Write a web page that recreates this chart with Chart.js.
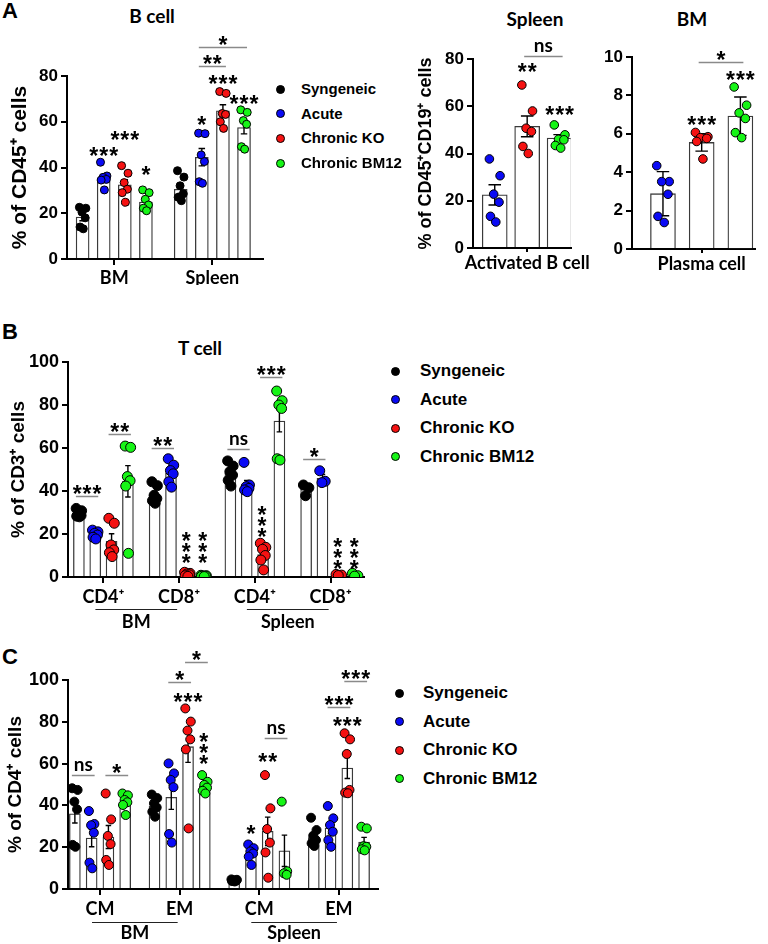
<!DOCTYPE html>
<html>
<head>
<meta charset="utf-8">
<script src="https://cdn.jsdelivr.net/npm/chart.js@4.4.1/dist/chart.umd.min.js"></script>
<style>
  html, body { margin: 0; padding: 0; background: #fff; }
  body { position: relative; width: 768px; height: 944px; overflow: hidden; font-family: "Liberation Sans", Arial, sans-serif; color: #000; }
  .panel { position: absolute; }
  .panel canvas { display: block; }
  .tag { position: absolute; font: bold 22px "Liberation Sans", Arial, sans-serif; line-height: 1; }
  .title { position: absolute; font: bold 19px Lato, sans-serif; transform: translate(-50%, -50%); white-space: nowrap; }
  .legend { position: absolute; font-weight: bold; }
  .legend .dot { position: absolute; border-radius: 50%; box-sizing: border-box; border: 1px solid #000; }
  .legend .txt { position: absolute; transform: translateY(-50%); white-space: nowrap; line-height: 1.15; }
</style>
</head>
<body>
<div class="tag" style="left:2px;top:0px">A</div>
<div class="tag" style="left:2px;top:321px">B</div>
<div class="tag" style="left:2px;top:646px">C</div>
<div class="title" style="left:152px;top:15px">B cell</div>
<div class="title" style="left:535px;top:18px">Spleen</div>
<div class="title" style="left:692px;top:18px">BM</div>
<div class="title" style="left:200px;top:347px">T cell</div>

<div class="panel" style="left:0;top:0;width:268px;height:290px"><canvas id="bCell"></canvas></div>
<div class="panel" style="left:400px;top:0;width:192px;height:290px"><canvas id="actB"></canvas></div>
<div class="panel" style="left:598px;top:0;width:162px;height:290px"><canvas id="plasma"></canvas></div>
<div class="panel" style="left:0;top:340px;width:370px;height:300px"><canvas id="tCell"></canvas></div>
<div class="panel" style="left:0;top:645px;width:383px;height:299px"><canvas id="cd4"></canvas></div>

<script>
// groups (series)
const groupNames = ['Syngeneic', 'Acute', 'Chronic KO', 'Chronic BM12'];
const groupColors = ['#000000', '#0a0af5', '#f51212', '#16f516'];

// ---- A: B cell, % of CD45+ ----
const bCellCats = ['BM', 'Spleen'];
const bCellMean = [[18.3, 30.5], [35.4, 44.5], [32.4, 64.8], [24.9, 57.5]];
const bCellSem = [[1.6, 1.8], [1.5, 3.8], [2.3, 2.6], [1.5, 2.8]];
const bCellPts = [
  [[22.6, 22.2, 20.5, 18.0, 14.0, 13.2], [38.6, 35.8, 32.0, 28.5, 27.0, 25.5]],
  [[42.3, 36.3, 35.7, 34.8, 34.5, 30.2], [55.0, 54.8, 45.5, 42.6, 33.8, 33.1]],
  [[40.8, 37.5, 33.4, 30.5, 29.0, 24.8], [73.2, 72.4, 63.6, 63.2, 60.0, 57.1]],
  [[30.2, 29.0, 26.1, 23.6, 22.2, 21.1], [65.2, 64.1, 60.5, 58.9, 49.1, 48.0]]
];
// [series, category, y, text]
const bCellStars = [[1, 0, 47.3, '***'], [2, 0, 54.1, '***'], [3, 0, 39.0, '*'], [1, 1, 60.6, '*'], [2, 1, 78.7, '***'], [3, 1, 70.0, '***']];
// [from series, to series, category, y, text]
const bCellBrackets = [[1, 2, 1, 84.4, '**'], [1, 3, 1, 92.7, '*']];

// ---- A: Spleen activated B cell, % of CD45+CD19+ ----
const actBCats = ['Activated B cell'];
const actBMean = [[22.5], [51.5], [46.5]];
const actBSem = [[4.3], [4.4], [1.5]];
const actBPts = [
  [[37.7, 30.6, 22.8, 19.4, 13.4, 11.0]],
  [[69.0, 58.0, 50.7, 49.3, 43.0, 40.0]],
  [[52.1, 47.9, 46.0, 45.8, 43.4, 42.3]]
];
const actBStars = [[1, 0, 76.8, '**'], [2, 0, 58.5, '***']];
const actBBrackets = [[1, 2, 0, 81.3, 'ns']];

// ---- A: BM plasma cell ----
const plasmaCats = ['Plasma cell'];
const plasmaMean = [[2.88], [5.55], [6.92]];
const plasmaSem = [[1.15], [0.45], [1.0]];
const plasmaPts = [
  [[4.34, 3.51, 3.51, 2.85, 1.70, 1.38]],
  [[6.07, 5.85, 5.80, 5.76, 5.60, 4.69]],
  [[8.44, 7.49, 7.09, 6.80, 6.06, 5.80]]
];
const plasmaStars = [[1, 0, 6.71, '***'], [2, 0, 9.05, '***']];
const plasmaBrackets = [[1, 2, 0, 9.74, '*']];

// ---- B: T cell, % of CD3+ ----
const tCellCats = ['CD4⁺', 'CD8⁺', 'CD4⁺', 'CD8⁺'];
const tCellOrgans = ['BM', 'Spleen'];
const tCellMean = [
  [29.5, 38.3, 48.3, 40.8],
  [19.8, 48.2, 43.0, 45.9],
  [16.6, 1.2, 10.4, 0.9],
  [44.5, 0.5, 72.5, 0.9]
];
const tCellSem = [[0.7, 1.5, 1.7, 1.6], [0.7, 1.9, 1.9, 1.8], [3.5, 0.3, 1.8, 0.2], [7.3, 0.1, 5.0, 0.4]];
const tCellPts = [
  [[31.9, 30.8, 29.6, 28.6, 28.3, 28.0], [44.3, 42.5, 38.0, 36.5, 35.5, 34.3], [54.0, 51.6, 49.0, 47.4, 45.0, 42.3], [42.8, 41.5, 37.8]],
  [[21.8, 21.0, 20.3, 19.5, 18.5, 17.7], [55.0, 52.0, 49.5, 48.0, 44.3, 41.8], [53.3, 42.8, 42.0, 41.2, 40.5, 39.7], [49.4, 44.5, 43.9]],
  [[27.3, 25.0, 14.9, 12.6, 11.3, 9.5], [2.2, 1.7, 1.4, 1.0, 0.6, 0.3], [15.7, 13.8, 12.9, 10.0, 7.9, 3.3], [1.2, 0.9, 0.7]],
  [[60.9, 60.3, 46.7, 44.8, 42.3, 11.0], [0.8, 0.6, 0.5, 0.4, 0.3, 0.2], [86.5, 82.0, 80.0, 78.4, 55.0, 54.4], [1.7, 0.6, 0.4]]
];
// [series, category, y of top star]
const tCellVStars = [[2, 1, 19.1], [3, 1, 19.1], [2, 2, 31.2], [2, 3, 16.4], [3, 3, 16.4]];
const tCellBrackets = [[0, 1, 0, 37.7, '***'], [2, 3, 0, 66.5, '**'], [0, 1, 1, 59.8, '**'], [0, 1, 2, 59.5, 'ns'], [2, 3, 2, 92.9, '***'], [0, 1, 3, 54.7, '*']];

// ---- C: CD4 subsets, % of CD4+ ----
const cd4Cats = ['CM', 'EM', 'CM', 'EM'];
const cd4Organs = ['BM', 'Spleen'];
const cd4Mean = [
  [36.0, 39.5, 4.0, 24.6],
  [24.4, 43.9, 17.0, 29.2],
  [24.9, 68.1, 27.6, 57.9],
  [41.2, 49.3, 18.3, 22.5]
];
const cd4Sem = [[4.4, 1.5, 0.2, 1.9], [4.2, 5.8, 1.5, 2.8], [5.5, 7.5, 6.8, 5.0], [1.5, 1.3, 7.5, 2.2]];
const cd4Pts = [
  [[48.2, 47.4, 41.8, 38.1, 21.1, 20.2], [45.2, 43.5, 41.0, 39.0, 37.0, 34.6], [4.6, 4.4, 4.2, 4.0, 3.8, 3.6], [34.1, 28.2, 25.5, 23.4, 21.9, 20.6]],
  [[37.3, 31.1, 30.5, 26.9, 12.6, 9.9], [60.1, 55.3, 52.2, 48.7, 26.3, 22.2], [21.3, 19.5, 18.0, 17.0, 15.5, 11.5], [39.7, 33.8, 30.6, 27.4, 23.4, 20.2]],
  [[45.7, 33.3, 25.4, 21.5, 13.9, 11.5], [86.4, 80.1, 75.8, 71.6, 66.8, 29.0], [54.5, 38.6, 28.7, 22.2, 17.5, 5.4], [74.5, 71.6, 64.6, 47.4, 46.1, 45.8]],
  [[45.7, 44.8, 42.6, 41.5, 40.2, 35.4], [54.5, 51.3, 49.8, 48.5, 47.0, 45.7], [41.8, 8.5, 7.5, 6.8], [29.8, 29.0, 20.5, 20.2, 19.0, 18.5]]
];
const cd4Stars = [[2, 1, 92.0, '***'], [1, 2, 28.7, '*'], [2, 2, 63.0, '**'], [2, 3, 80.4, '***']];
const cd4VStars = [[3, 1, 72.6]];
const cd4Brackets = [[0, 1, 0, 54.4, 'ns'], [2, 3, 0, 54.4, '*'], [1, 2, 1, 99.2, '*'], [2, 3, 1, 108.8, '*'], [2, 3, 2, 72.1, 'ns'], [1, 2, 3, 87.2, '***'], [2, 3, 3, 99.5, '***']];

// horizontal spread of the dots, as a fraction of half a bar
const JITTER = [-0.5, 0.5, -0.1, 0.4, -0.4, 0.1];

function drawSig(ctx, text, x, cy) {
    if (text[0] === '*') {
        ctx.font = 'bold 23px "Liberation Sans"';
        ctx.letterSpacing = '1px';
        ctx.fillText(text, x + 0.5, cy + 13);
    } else {
        ctx.font = 'bold 19px Lato';
        ctx.letterSpacing = '0px';
        ctx.fillText(text, x, cy + 5);
    }
}

function makePanel(id, p) {
    const n = p.series.length;
    const step = n + p.gap;
    const pos = (c, k) => c * step + k;
    const datasets = [];

    p.series.forEach((g, k) => {
        datasets.push({
            type: 'bar',
            label: groupNames[g],
            order: 1,
            grouped: false,
            data: p.cats.map((_, c) => ({ x: pos(c, k), y: p.mean[k][c] })),
            errs: p.sem[k],
            backgroundColor: '#ffffff',
            borderColor: '#3a3a3a',
            borderWidth: 1.3,
            barPercentage: 1,
            categoryPercentage: 1,
            maxBarThickness: p.barPx
        });
    });
    p.series.forEach((g, k) => {
        const data = [];
        p.cats.forEach((_, c) => p.pts[k][c].forEach((v, j) => {
            data.push({ x: pos(c, k) + JITTER[j % JITTER.length] * p.barPx / 2 / p.slotPx, y: v });
        }));
        datasets.push({
            type: 'scatter',
            label: groupNames[g],
            order: 0,
            data,
            pointRadius: p.ptR,
            pointBackgroundColor: groupColors[g],
            pointBorderColor: '#000',
            pointBorderWidth: 1
        });
    });

    // mean +/- error whiskers on top of each bar
    const errBars = {
        id: 'err_' + id,
        afterDatasetDraw(chart, args) {
            const ds = chart.data.datasets[args.index];
            if (!ds.errs) return;
            const ctx = chart.ctx, y = chart.scales.y;
            ctx.save();
            ctx.strokeStyle = '#000';
            ctx.lineWidth = 1.4;
            args.meta.data.forEach((bar, i) => {
                const m = ds.data[i].y, e = ds.errs[i];
                const top = y.getPixelForValue(m + e);
                const bot = y.getPixelForValue(Math.max(m - e, 0));
                const w = bar.width * 0.25;
                ctx.beginPath();
                ctx.moveTo(bar.x, top); ctx.lineTo(bar.x, bot);
                ctx.moveTo(bar.x - w, top); ctx.lineTo(bar.x + w, top);
                ctx.moveTo(bar.x - w, bot); ctx.lineTo(bar.x + w, bot);
                ctx.stroke();
            });
            ctx.restore();
        }
    };

    // significance marks + organ group labels under the axis
    const sig = {
        id: 'sig_' + id,
        afterDraw(chart) {
            const { ctx, scales: { x, y }, chartArea } = chart;
            const px = (c, k) => x.getPixelForValue(pos(c, k));
            ctx.save();
            ctx.fillStyle = '#000';
            ctx.textAlign = 'center';
            ctx.textBaseline = 'alphabetic';
            (p.stars || []).forEach(([k, c, v, t]) => drawSig(ctx, t, px(c, k), y.getPixelForValue(v)));
            (p.vstars || []).forEach(([k, c, v]) => {
                for (let i = 0; i < 3; i++) drawSig(ctx, '*', px(c, k) - 1, y.getPixelForValue(v) + i * 11);
            });
            (p.brackets || []).forEach(([k1, k2, c, v, t]) => {
                const yy = Math.round(y.getPixelForValue(v)) + 0.5;
                ctx.strokeStyle = '#8a8a8a';
                ctx.lineWidth = 1.5;
                ctx.beginPath();
                ctx.moveTo(px(c, k1) - 3, yy);
                ctx.lineTo(px(c, k2) + 3, yy);
                ctx.stroke();
                drawSig(ctx, t, (px(c, k1) + px(c, k2)) / 2, yy - (t[0] === '*' ? 8 : 10));
            });
            if (p.organs) {
                p.organs.forEach((name, o) => {
                    const a = x.getPixelForValue(pos(2 * o, (n - 1) / 2)) - 8;
                    const b = x.getPixelForValue(pos(2 * o + 1, (n - 1) / 2)) - 2;
                    const ly = Math.round(chartArea.bottom + p.organLine) + 0.5;
                    ctx.strokeStyle = '#222';
                    ctx.lineWidth = 1.2;
                    ctx.beginPath(); ctx.moveTo(a, ly); ctx.lineTo(b, ly); ctx.stroke();
                    ctx.font = 'bold 18px Lato';
                    ctx.letterSpacing = '0px';
                    ctx.textBaseline = 'middle';
                    ctx.fillText(name, (a + b) / 2, ly + p.organText);
                    ctx.textBaseline = 'alphabetic';
                });
            }
            ctx.restore();
        }
    };

    const axisFont = { family: 'Liberation Sans', weight: 'bold', size: p.tickPx };

    new Chart(document.getElementById(id), {
        type: 'scatter',
        data: { datasets },
        options: {
            animation: false,
            responsive: true,
            maintainAspectRatio: false,
            events: [],
            layout: { padding: p.pad },
            plugins: { legend: { display: false }, tooltip: { enabled: false } },
            scales: {
                x: {
                    type: 'linear',
                    min: p.xMin,
                    max: p.xMax,
                    offset: false,
                    afterBuildTicks: s => { s.ticks = p.cats.map((_, c) => ({ value: pos(c, (n - 1) / 2) })); },
                    ticks: {
                        callback: (v, i) => p.cats[i],
                        color: '#000',
                        font: { family: 'Lato', weight: 'bold', size: p.catPx },
                        padding: p.catPad,
                        maxRotation: 0,
                        autoSkip: false
                    },
                    grid: { drawOnChartArea: false, color: '#000', lineWidth: 2, tickLength: p.tickLen, offset: false },
                    border: { color: '#000', width: 2 },
                    afterFit: s => { s.height = p.xHeight; }
                },
                y: {
                    min: 0,
                    max: p.yMax,
                    ticks: { stepSize: p.yStep, color: '#000', font: axisFont, padding: 3 },
                    grid: { drawOnChartArea: false, color: '#000', lineWidth: 2, tickLength: 6 },
                    border: { color: '#000', width: 2 },
                    title: p.yTitle ? {
                        display: true,
                        text: p.yTitle,
                        color: '#000',
                        font: { family: 'Liberation Sans', weight: 'bold', size: p.yTitlePx },
                        padding: { top: p.yTitlePad, bottom: 0 }
                    } : { display: false },
                    afterFit: s => { s.width = p.yWidth; }
                }
            }
        },
        plugins: [errBars, sig]
    });
}

function buildLegend(left, top, rowStep, dotR, textDx, fontPx) {
    const box = document.createElement('div');
    box.className = 'legend';
    box.style.left = left + 'px';
    box.style.top = top + 'px';
    box.style.fontSize = fontPx + 'px';
    groupNames.forEach((name, i) => {
        const dot = document.createElement('div');
        dot.className = 'dot';
        dot.style.cssText = `left:${-dotR}px;top:${i * rowStep - dotR}px;width:${2 * dotR}px;height:${2 * dotR}px;background:${groupColors[i]}`;
        const txt = document.createElement('div');
        txt.className = 'txt';
        txt.textContent = name;
        txt.style.left = textDx + 'px';
        txt.style.top = (i * rowStep) + 'px';
        box.append(dot, txt);
    });
    document.body.appendChild(box);
}

makePanel('bCell', {
    series: [0, 1, 2, 3], cats: bCellCats, mean: bCellMean, sem: bCellSem, pts: bCellPts,
    stars: bCellStars, brackets: bCellBrackets,
    gap: 0.65, xMin: -0.74, xMax: 8.55, slotPx: 21.3, barPx: 13, ptR: 4,
    yMax: 80, yStep: 20, tickPx: 17, yTitle: '% of CD45⁺ cells', yTitlePx: 21, yTitlePad: 8, yWidth: 67,
    catPx: 18, catPad: 2, tickLen: 6, xHeight: 26,
    pad: { top: 76, right: 3, bottom: 5, left: 0 }
});

makePanel('actB', {
    series: [1, 2, 3], cats: actBCats, mean: actBMean, sem: actBSem, pts: actBPts,
    stars: actBStars, brackets: actBBrackets,
    gap: 0, xMin: -0.67, xMax: 2.34, slotPx: 38, barPx: 25, ptR: 4.3,
    yMax: 80, yStep: 20, tickPx: 17, yTitle: '% of CD45⁺CD19⁺ cells', yTitlePx: 18, yTitlePad: 15, yWidth: 73,
    catPx: 18, catPad: 0, tickLen: 4, xHeight: 30,
    pad: { top: 59, right: 5, bottom: 12, left: 0 }
});

makePanel('plasma', {
    series: [1, 2, 3], cats: plasmaCats, mean: plasmaMean, sem: plasmaSem, pts: plasmaPts,
    stars: plasmaStars, brackets: plasmaBrackets,
    gap: 0, xMin: -0.8, xMax: 2.37, slotPx: 38.75, barPx: 25, ptR: 4.3,
    yMax: 10, yStep: 2, tickPx: 17, yTitle: null, yWidth: 34,
    catPx: 18, catPad: 0, tickLen: 4, xHeight: 30,
    pad: { top: 57, right: 5, bottom: 11, left: 0 }
});

makePanel('tCell', {
    series: [0, 1, 2, 3], cats: tCellCats, mean: tCellMean, sem: tCellSem, pts: tCellPts,
    vstars: tCellVStars, brackets: tCellBrackets, organs: tCellOrgans, organLine: 32, organText: 13,
    gap: 0.636, xMin: -0.667, xMax: 17.45, slotPx: 16.5, barPx: 11, ptR: 5,
    yMax: 100, yStep: 20, tickPx: 18, yTitle: '% of CD3⁺ cells', yTitlePx: 19, yTitlePad: 7, yWidth: 68,
    catPx: 18, catPad: 3, tickLen: 6, xHeight: 28,
    pad: { top: 22, right: 3, bottom: 35, left: 0 }
});

makePanel('cd4', {
    series: [0, 1, 2, 3], cats: cd4Cats, mean: cd4Mean, sem: cd4Sem, pts: cd4Pts,
    stars: cd4Stars, vstars: cd4VStars, brackets: cd4Brackets, organs: cd4Organs, organLine: 33, organText: 11,
    gap: 0.75, xMin: -0.41, xMax: 18.05, slotPx: 16.9, barPx: 11, ptR: 4.5,
    yMax: 100, yStep: 20, tickPx: 18, yTitle: '% of CD4⁺ cells', yTitlePx: 19, yTitlePad: 4, yWidth: 68,
    catPx: 18, catPad: 3, tickLen: 6, xHeight: 28,
    pad: { top: 35, right: 3, bottom: 27, left: 0 }
});

buildLegend(280, 89, 24.7, 4.5, 21, 15);
buildLegend(395, 371, 28.5, 4.5, 25, 17);
buildLegend(399, 693, 28.5, 4.5, 24, 17);
</script>
</body>
</html>
